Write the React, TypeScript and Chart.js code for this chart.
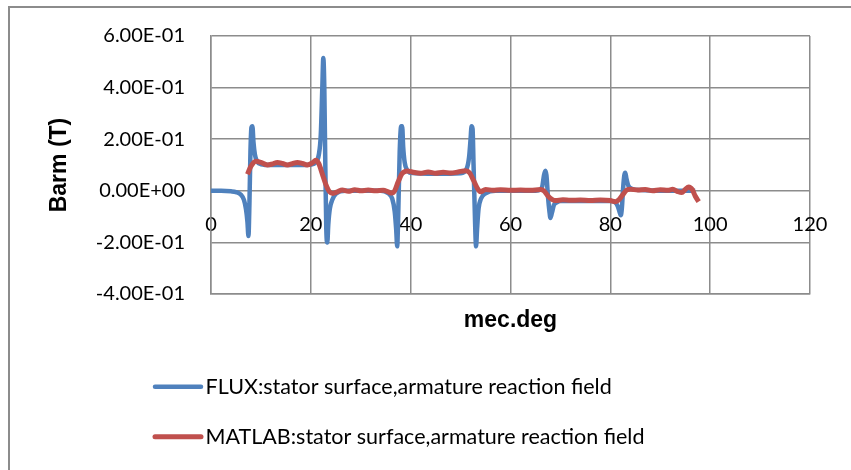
import React, { useEffect, useRef } from "react";
import { Chart, registerables } from "chart.js";

Chart.register(...registerables);

const fluxDeg = [
  0, 2, 4, 5, 6, 6.6, 7.0, 7.3, 7.5, 7.7, 7.9, 8.1, 8.3, 8.5, 8.8, 9.2, 10, 12, 15, 18, 20,
  21, 21.6, 22.0, 22.3, 22.5, 22.7, 22.9, 23.1, 23.3, 23.5, 23.8, 24.3, 25, 27, 30, 34,
  35.5, 36.3, 36.8, 37.1, 37.3, 37.5, 37.8, 38.1, 38.3, 38.5, 38.8, 39.3, 40, 45, 50,
  51.2, 51.7, 52.0, 52.2, 52.4, 52.6, 52.9, 53.1, 53.3, 53.6, 54.1, 55, 57, 60, 65,
  66.0, 66.4, 66.7, 67.0, 67.2, 67.5, 67.8, 68.0, 68.3, 68.7, 69.3, 70, 75, 80,
  81.0, 81.5, 81.9, 82.1, 82.3, 82.6, 82.8, 83.0, 83.2, 83.6, 84.3, 86, 90, 95, 97,
];
const fluxB = [
  0, 0, -0.002, -0.005, -0.015, -0.035, -0.07, -0.12, -0.175, -0.05, 0.15, 0.245, 0.25, 0.19, 0.14, 0.115, 0.103, 0.1, 0.1, 0.1, 0.102,
  0.11, 0.14, 0.22, 0.4, 0.515, 0.4, 0.1, -0.15, -0.2, -0.13, -0.07, -0.035, -0.012, 0, 0, 0,
  -0.01, -0.03, -0.08, -0.15, -0.215, -0.1, 0.15, 0.25, 0.25, 0.17, 0.11, 0.08, 0.07, 0.066, 0.068,
  0.085, 0.13, 0.2, 0.25, 0.24, 0.1, -0.12, -0.215, -0.15, -0.07, -0.03, -0.01, 0, 0, 0,
  0.005, 0.02, 0.06, 0.078, 0.06, -0.02, -0.08, -0.105, -0.085, -0.055, -0.045, -0.04, -0.04, -0.04,
  -0.045, -0.06, -0.085, -0.095, -0.07, 0.02, 0.06, 0.07, 0.05, 0.02, 0.008, 0.003, 0, 0, 0,
];

const matlabDeg = [
  7.3, 8.0, 9.0, 10.0, 11.3, 12.3, 13.3, 14.3, 15.3, 16.3, 17.3, 18.3, 19.3, 20.3, 21.0,
  21.6, 22.3, 23.0, 23.7, 24.4, 25.3, 26.3, 27.5, 28.8, 30, 31.5, 33, 34.5, 35.5, 36.2,
  36.8, 37.5, 38.3, 39.3, 40.5, 42, 43.5, 45, 46.5, 48, 49.5, 51, 51.8, 52.6, 53.3, 54.0,
  55, 56.5, 58, 60, 62, 64, 66, 66.7, 67.5, 68.3, 69, 70.5, 72, 74, 76, 78, 80, 81,
  81.7, 82.5, 83.3, 84, 85.5, 87, 88.5, 90, 91.5, 92.5, 93.5, 94.3, 95.0, 95.7, 96.4, 97.0, 97.7,
];
const matlabB = [
  0.064, 0.095, 0.115, 0.11, 0.1, 0.104, 0.11, 0.106, 0.1, 0.105, 0.11, 0.106, 0.1, 0.108, 0.118,
  0.105, 0.065, 0.025, -0.003, -0.01, -0.004, 0.003, -0.002, 0.004, 0, 0.003, 0, 0.002, -0.004, -0.009,
  0, 0.035, 0.067, 0.077, 0.072, 0.068, 0.073, 0.068, 0.072, 0.069, 0.073, 0.078, 0.07, 0.04, 0.012, -0.004,
  0.005, 0.002, 0.004, 0.002, 0.003, 0.002, 0.005, 0, -0.02, -0.033, -0.038, -0.035, -0.037, -0.036, -0.038, -0.036, -0.038, -0.042,
  -0.035, -0.015, 0.003, 0.006, 0.003, 0.005, 0, 0.004, 0.002, 0.006, -0.003, -0.007, 0.005, 0.015, 0.005, -0.02, -0.042,
];

const seriesLabels = [
  "FLUX:stator surface,armature reaction field",
  "MATLAB:stator surface,armature reaction field",
];
const seriesColors = ["#4F81BD", "#C0504D"];
const xTitle = "mec.deg";
const yTitle = "Barm (T)";
const xMin = 0, xMax = 120, xStep = 20;
const yMin = -0.4, yMax = 0.6, yStep = 0.2;

const fmtExp = (v: number) => {
  const [m, e] = Number(v).toExponential(2).split("e");
  const sign = e[0] === "-" ? "-" : "+";
  const d = e.replace(/[+-]/, "").padStart(2, "0");
  return `${m}E${sign}${d}`;
};

const legendPlugin = {
  id: "customLegend",
  afterDraw(chart: any) {
    const ctx = chart.ctx;
    ctx.save();
    const rows = [378.7, 428.7];
    chart.data.datasets.forEach((ds: any, i: number) => {
      const y = rows[i];
      ctx.strokeStyle = ds.borderColor;
      ctx.lineWidth = i === 0 ? 4.5 : 5;
      ctx.lineCap = "round";
      ctx.beginPath();
      ctx.moveTo(145, y);
      ctx.lineTo(191, y);
      ctx.stroke();
      ctx.fillStyle = "#000";
      ctx.font = "21.5px Lato";
      ctx.textBaseline = "middle";
      ctx.textAlign = "left";
      ctx.fillText(ds.label, 195.5, y);
    });
    ctx.restore();
  },
};

export default function App() {
  const ref = useRef<HTMLCanvasElement>(null);
  useEffect(() => {
    if (!ref.current) return;
    const gridColor = "#8c8c8c";
    const chart = new Chart(ref.current, {
      type: "line",
      data: {
        datasets: [
          {
            label: seriesLabels[0],
            data: fluxDeg.map((x, i) => ({ x, y: fluxB[i] })),
            borderColor: seriesColors[0],
            backgroundColor: seriesColors[0],
            borderWidth: 4.5,
            pointRadius: 0,
            cubicInterpolationMode: "monotone",
            order: 1,
          },
          {
            label: seriesLabels[1],
            data: matlabDeg.map((x, i) => ({ x, y: matlabB[i] })),
            borderColor: seriesColors[1],
            backgroundColor: seriesColors[1],
            borderWidth: 5,
            pointRadius: 0,
            cubicInterpolationMode: "monotone",
            order: 0,
          },
        ],
      },
      options: {
        animation: false,
        responsive: false,
        maintainAspectRatio: false,
        layout: { padding: { left: 10, top: 28, right: 41, bottom: 132 } },
        plugins: { legend: { display: false }, tooltip: { enabled: false } },
        scales: {
          x: {
            type: "linear",
            min: xMin,
            max: xMax,
            position: "bottom",
            ticks: { display: false, stepSize: xStep },
            grid: { color: gridColor, lineWidth: 1.5, drawTicks: false },
            border: { color: gridColor, width: 1.5 },
            title: {
              display: true,
              text: xTitle,
              color: "#000",
              font: { family: "Liberation Sans", size: 23, weight: "bold" },
              padding: { top: 12, bottom: 4 },
            },
            afterFit: (s: any) => { s.height = 44; s.paddingLeft = 0; s.paddingRight = 0; },
          },
          x2: {
            type: "linear",
            min: xMin,
            max: xMax,
            position: { y: 0 },
            ticks: { stepSize: xStep, color: "#000", padding: 22, font: { family: "Lato", size: 20 }, maxRotation: 0 },
            grid: { display: false, drawTicks: false },
            border: { display: false },
            afterFit: (s: any) => { s.paddingLeft = 0; s.paddingRight = 0; },
          },
          y: {
            type: "linear",
            min: yMin,
            max: yMax,
            ticks: {
              stepSize: yStep,
              color: "#000",
              padding: 26,
              font: { family: "Lato", size: 20 },
              callback: (v: any) => fmtExp(Number(v)),
            },
            grid: { color: gridColor, lineWidth: 1.5, drawTicks: false },
            border: { color: gridColor, width: 1.5 },
            title: {
              display: true,
              text: yTitle,
              color: "#000",
              font: { family: "Liberation Sans", size: 23, weight: "bold" },
              padding: { top: 26, bottom: 4 },
            },
            afterFit: (s: any) => { s.width = 191; s.paddingTop = 0; s.paddingBottom = 0; },
          },
        },
      },
      plugins: [legendPlugin],
    });
    return () => chart.destroy();
  }, []);
  return (
    <div
      style={{
        position: "absolute",
        left: 8,
        top: 6,
        width: 843,
        height: 464,
        boxSizing: "border-box",
        borderTop: "2px solid #8c8c8c",
        borderLeft: "2px solid #8c8c8c",
      }}
    >
      <canvas ref={ref} width={841} height={462} style={{ display: "block", width: 841, height: 462 }} />
    </div>
  );
}
